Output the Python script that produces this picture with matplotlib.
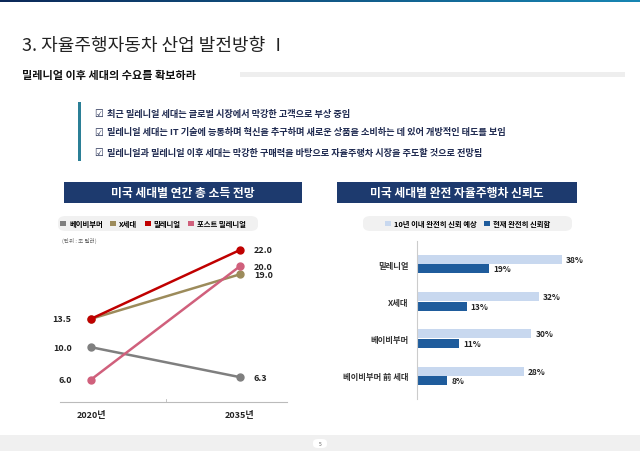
import numpy as np
import matplotlib
matplotlib.use("Agg")
import matplotlib.pyplot as plt
from matplotlib.patches import Rectangle, FancyBboxPatch, Patch

plt.rcParams['font.family'] = ['Noto Sans CJK KR', 'DejaVu Sans']

# ---- data ----
title = "3. 자율주행자동차 산업 발전방향 Ⅰ"
subtitle = "밀레니얼 이후 세대의 수요를 확보하라"
bullets = [
    "최근 밀레니얼 세대는 글로벌 시장에서 막강한 고객으로 부상 중임",
    "밀레니얼 세대는 IT 기술에 능통하며 혁신을 추구하며 새로운 상품을 소비하는 데 있어 개방적인 태도를 보임",
    "밀레니얼과 밀레니얼 이후 세대는 막강한 구매력을 바탕으로 자율주행차 시장을 주도할 것으로 전망됨",
]

years = ["2020년", "2035년"]
gen_names = ["베이비부머", "X세대", "밀레니얼", "포스트 밀레니얼"]
income_2020 = [10.0, 13.5, 13.5, 6.0]
income_2035 = [6.3, 19.0, 22.0, 20.0]
gen_colors = ["#7f7f7f", "#9c8b5b", "#c00000", "#d0607c"]

trust_cats = ["밀레니얼", "X세대", "베이비부머", "베이비부머 前 세대"]
trust_future = [38, 32, 30, 28]
trust_now = [19, 13, 11, 8]
trust_labels = ["10년 이내 완전히 신뢰 예상", "현재 완전히 신뢰함"]
trust_colors = ["#c8d8ef", "#1f5c9c"]

W, H = 640, 452
navy = "#1d3a6e"
dark_text = "#1f2a50"


def fx(x):
    return x / W


def fy(y):
    return 1 - y / H


fig = plt.figure(figsize=(6.4, 4.52), dpi=100)
fig.patch.set_facecolor("white")

# top gradient bar
grad = np.linspace(0, 1, 256).reshape(1, -1)
top_ax = fig.add_axes([0, fy(3), 1, 3 / H])
top_ax.imshow(grad, aspect="auto", cmap=matplotlib.colors.LinearSegmentedColormap.from_list(
    "g", ["#0b2858", "#1786b3"]))
top_ax.axis("off")

# title + subtitle
fig.text(fx(22), fy(46), title, fontsize=13, fontweight="light", color="#222222",
         va="center", ha="left")
fig.text(fx(22), fy(76), subtitle, fontsize=8, fontweight="bold", color="#111111", va="center")
fig.patches.append(Rectangle((fx(240), fy(78)), fx(625) - fx(240), 5 / H,
                             transform=fig.transFigure, facecolor="#eeeeee", edgecolor="none"))

# bullet box
fig.patches.append(Rectangle((fx(78), fy(162)), 3 / W, 59 / H,
                             transform=fig.transFigure, facecolor="#2b7f96", edgecolor="none"))
for y, line in zip([114, 133, 153], bullets):
    fig.text(fx(94), fy(y), "☑", fontsize=7, color=dark_text, va="center",
             family=["DejaVu Sans"])
    fig.text(fx(107), fy(y), line, fontsize=6.6, fontweight="bold", color=dark_text, va="center")

# panel headers
for x0, x1, txt in [(64, 302, "미국 세대별 연간 총 소득 전망"),
                    (337, 577, "미국 세대별 완전 자율주행차 신뢰도")]:
    fig.patches.append(Rectangle((fx(x0), fy(204)), fx(x1) - fx(x0), 21 / H,
                                 transform=fig.transFigure, facecolor=navy, edgecolor="none"))
    fig.text(fx((x0 + x1) / 2), fy(194), txt, fontsize=8.5, fontweight="bold",
             color="white", ha="center", va="center")

# legend pills
for x0, x1 in [(58, 258), (363, 572)]:
    fig.patches.append(FancyBboxPatch((fx(x0), fy(232)), fx(x1) - fx(x0), 15 / H,
                                      boxstyle="round,pad=0,rounding_size=0.012",
                                      transform=fig.transFigure, facecolor="#f1f1f1",
                                      edgecolor="none"))

# ---- left line chart ----
ax1 = fig.add_axes([fx(60), fy(403), fx(287) - fx(60), (403 - 240) / H])
px_per_unit = 8.1
ax1.set_ylim(22 - (403 - 251) / px_per_unit, 22 + (251 - 240) / px_per_unit)
ax1.set_xlim(-31 / 149, 1 + 47 / 149)
xs = [0, 1]
for name, a, b, c in zip(gen_names, income_2020, income_2035, gen_colors):
    ax1.plot(xs, [a, b], color=c, lw=1.8, marker="o", markersize=5, solid_capstyle="round")
for v in sorted(set(income_2020)):
    ax1.annotate(f"{v:.1f}", (0, v), xytext=(-14, 0), textcoords="offset points",
                 ha="right", va="center", fontsize=6.5, fontweight="bold", color="#222222")
for v in income_2035:
    ax1.annotate(f"{v:.1f}", (1, v), xytext=(10, 0), textcoords="offset points",
                 ha="left", va="center", fontsize=6.5, fontweight="bold", color="#222222")
for s in ["top", "right", "left"]:
    ax1.spines[s].set_visible(False)
ax1.spines["bottom"].set_color("#bbbbbb")
ax1.spines["bottom"].set_linewidth(0.8)
ax1.set_yticks([])
ax1.set_xticks(xs)
ax1.set_xticklabels(years, fontsize=6.5, fontweight="bold", color="#222222")
ax1.tick_params(axis="x", length=0, pad=6)
ax1.plot([0.5, 0.5], [ax1.get_ylim()[0], ax1.get_ylim()[0] + 0.4], color="#bbbbbb", lw=0.6,
         clip_on=False)
ax1.patch.set_alpha(0)
fig.text(fx(62), fy(241), "(단위 : 조 달러)", fontsize=4, color="#666666", va="center")

handles1 = [Patch(facecolor=c, edgecolor="none") for c in gen_colors]
fig.legend(handles1, gen_names, loc="center", bbox_to_anchor=(fx(153), fy(224.5)),
           ncol=4, frameon=False, handlelength=0.8, handleheight=0.8,
           handletextpad=0.4, columnspacing=1.0, prop={"weight": "bold", "size": 5.3})

# ---- right bar chart ----
ax2 = fig.add_axes([fx(417), fy(400), fx(580) - fx(417), (400 - 242) / H])
ypos = np.arange(len(trust_cats))
spacing = 37.3
top_units = (265 - 242) / spacing
ax2.set_ylim(-top_units + (400 - 242) / spacing, -top_units)
ax2.set_xlim(0, 163 / 3.81)
bh = 9 / spacing
b1 = ax2.barh(ypos - 4.7 / spacing, trust_future, height=bh, color=trust_colors[0])
b2 = ax2.barh(ypos + 4.7 / spacing, trust_now, height=bh, color=trust_colors[1])
for bars, vals in [(b1, trust_future), (b2, trust_now)]:
    for bar, v in zip(bars, vals):
        ax2.annotate(f"{v}%", (v, bar.get_y() + bar.get_height() / 2), xytext=(3, 0),
                     textcoords="offset points", ha="left", va="center", fontsize=6,
                     fontweight="bold", color="#222222")
ax2.set_yticks(ypos)
ax2.set_yticklabels(trust_cats, fontsize=6, fontweight="bold", color="#333333")
ax2.tick_params(axis="y", length=0, pad=6)
ax2.set_xticks([])
for s in ["top", "right", "bottom"]:
    ax2.spines[s].set_visible(False)
ax2.spines["left"].set_color("#cccccc")
ax2.spines["left"].set_linewidth(0.8)
ax2.patch.set_alpha(0)

handles2 = [Patch(facecolor=c, edgecolor="none") for c in trust_colors]
fig.legend(handles2, trust_labels, loc="center", bbox_to_anchor=(fx(468), fy(224.5)),
           ncol=2, frameon=False, handlelength=0.8, handleheight=0.8,
           handletextpad=0.4, columnspacing=1.0, prop={"weight": "bold", "size": 5.3})

# footer
fig.patches.append(Rectangle((0, 0), 1, 16 / H, transform=fig.transFigure,
                             facecolor="#f0f0f0", edgecolor="none"))
fig.patches.append(FancyBboxPatch((fx(313), fy(449)), 14 / W, 9 / H,
                                  boxstyle="round,pad=0,rounding_size=0.008",
                                  transform=fig.transFigure, facecolor="white",
                                  edgecolor="none"))
fig.text(fx(320), fy(444.5), "5", fontsize=3.5, color="#555555", ha="center", va="center")

fig.savefig("out.png", dpi=100)
